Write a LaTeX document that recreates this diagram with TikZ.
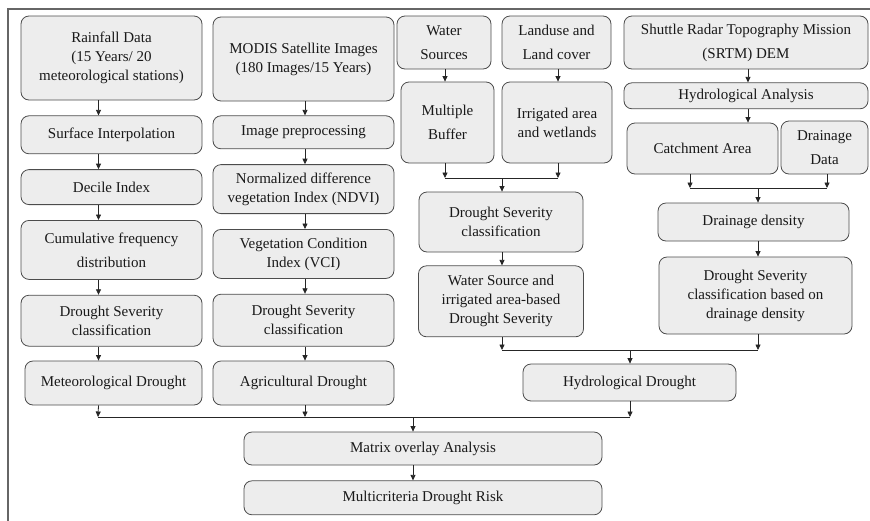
\documentclass[tikz,border=0pt]{standalone}
\usepackage{fontspec}
\setmainfont{Liberation Serif}
\usetikzlibrary{arrows.meta, positioning}
\tikzstyle{box} = [rectangle, rounded corners=8pt, align=center, inner sep=2pt, draw=black!70, line width=0.8pt, fill=black!7, text=black!90, font=\fontsize{15}{19}\selectfont]
\tikzstyle{wide} = [font=\fontsize{15}{24}\selectfont]
\tikzstyle{arrow} = [line width=0.8pt, draw=black!85, -{Triangle[length=5.5pt,width=5pt]}]
\tikzstyle{line} = [line width=0.8pt, draw=black!85]

\begin{document}
\begin{tikzpicture}[x=1pt, y=-1pt, node distance=15pt]
      \useasboundingbox (0,0) rectangle (870,520);
      \draw [black!60, line width=1.2pt] (8,525) -- (8,9) -- (875,9);

      % meteorological column
      \node (rain) [box, minimum width=181pt, minimum height=84pt] at (111.5,58) {Rainfall Data\\(15 Years/ 20\\meteorological stations)};
      \node (surf) [box, below=of rain, minimum width=181pt, minimum height=38pt] {Surface Interpolation};
      \node (decile) [box, below=of surf, minimum width=181pt, minimum height=35pt] {Decile Index};
      \node (cumul) [box, below=of decile, minimum width=181pt, minimum height=59pt, wide] {Cumulative frequency\\distribution};
      \node (dsc1) [box, below=of cumul, minimum width=181pt, minimum height=51pt] {Drought Severity\\classification};
      \node (meteo) [box, below=14pt of dsc1, xshift=2pt, minimum width=177pt, minimum height=44pt] {Meteorological Drought};

      % agricultural column
      \node (modis) [box, minimum width=181pt, minimum height=84pt] at (303.5,59) {MODIS Satellite Images\\(180 Images/15 Years)};
      \node (prep) [box, below=14pt of modis, minimum width=181pt, minimum height=33pt] {Image preprocessing};
      \node (ndvi) [box, below=of prep, minimum width=181pt, minimum height=49pt] {Normalized difference\\vegetation Index (NDVI)};
      \node (vci) [box, below=of ndvi, minimum width=181pt, minimum height=49pt] {Vegetation Condition\\Index (VCI)};
      \node (dsc2) [box, below=of vci, minimum width=181pt, minimum height=52pt] {Drought Severity\\classification};
      \node (agri) [box, below=14pt of dsc2, minimum width=181pt, minimum height=44pt] {Agricultural Drought};

      % water source column
      \node (water) [box, wide, minimum width=94pt, minimum height=53pt] at (444,42.5) {Water\\Sources};
      \node (landuse) [box, wide, minimum width=109pt, minimum height=53pt] at (556.5,42.5) {Landuse and\\Land cover};
      \node (buffer) [box, wide, minimum width=93pt, minimum height=81pt] at (447.5,122.5) {Multiple\\Buffer};
      \node (irrig) [box, minimum width=110pt, minimum height=81pt] at (557,122.5) {Irrigated area\\and wetlands};
      \node (dsc3) [box, minimum width=164pt, minimum height=60pt] at (501,222) {Drought Severity\\classification};
      \node (wsdsev) [box, below=13pt of dsc3, minimum width=165pt, minimum height=71pt] {Water Source and\\irrigated area-based\\Drought Severity};

      % drainage column
      \node (srtm) [box, wide, minimum width=244pt, minimum height=53pt] at (746,42.5) {Shuttle Radar Topography Mission\\(SRTM) DEM};
      \node (hydan) [box, below=13pt of srtm, minimum width=244pt, minimum height=26pt] {Hydrological Analysis};
      \node (catch) [box, minimum width=151pt, minimum height=51pt] at (702.5,148.5) {Catchment Area};
      \node (drdata) [box, wide, minimum width=87pt, minimum height=53pt] at (824.5,147.5) {Drainage\\Data};
      \node (drdens) [box, minimum width=191pt, minimum height=38pt] at (753.5,222) {Drainage density};
      \node (dsdr) [box, minimum width=193pt, minimum height=77pt] at (755.5,295.5) {Drought Severity\\classification based on\\drainage density};
      \node (hydro) [box, minimum width=213pt, minimum height=37pt] at (629.5,382.5) {Hydrological Drought};

      % risk
      \node (matrix) [box, minimum width=358pt, minimum height=33pt] at (423,448.5) {Matrix overlay Analysis};
      \node (risk) [box, below=15pt of matrix, minimum width=358pt, minimum height=34pt] {Multicriteria Drought Risk};

      \coordinate (mws) at (502,178);
      \coordinate (mdr) at (758,188);
      \coordinate (mhy) at (630,350);
      \coordinate (mall) at (413,417);
      \coordinate (mleft) at (98,417);

      \draw [arrow] ([xshift=-13pt]rain.south) -- ([xshift=-13pt]surf.north);
      \draw [arrow] ([xshift=-13pt]surf.south) -- ([xshift=-13pt]decile.north);
      \draw [arrow] ([xshift=-13pt]decile.south) -- ([xshift=-13pt]cumul.north);
      \draw [arrow] ([xshift=-13pt]cumul.south) -- ([xshift=-13pt]dsc1.north);
      \draw [arrow] ([xshift=-13pt]dsc1.south) -- ([xshift=-15pt]meteo.north);

      \draw [arrow] ([xshift=1.5pt]modis.south) -- ([xshift=1.5pt]prep.north);
      \draw [arrow] ([xshift=1.5pt]prep.south) -- ([xshift=1.5pt]ndvi.north);
      \draw [arrow] ([xshift=1.5pt]ndvi.south) -- ([xshift=1.5pt]vci.north);
      \draw [arrow] ([xshift=1.5pt]vci.south) -- ([xshift=1.5pt]dsc2.north);
      \draw [arrow] ([xshift=1.5pt]dsc2.south) -- ([xshift=1.5pt]agri.north);

      \draw [arrow] ([xshift=1pt]water.south) -- ([xshift=-2.5pt]buffer.north);
      \draw [arrow] ([xshift=1.5pt]landuse.south) -- ([xshift=1pt]irrig.north);
      \draw [arrow] ([xshift=-2.5pt]buffer.south) -- ([xshift=-2.5pt]buffer.south |- mws);
      \draw [arrow] ([xshift=1pt]irrig.south) -- ([xshift=1pt]irrig.south |- mws);
      \draw [line] ([xshift=-2.5pt]buffer.south |- mws) -- ([xshift=1pt]irrig.south |- mws);
      \draw [arrow] (mws) -- (mws |- dsc3.north);
      \draw [arrow] (mws |- dsc3.south) -- (mws |- wsdsev.north);

      \draw [arrow] ([xshift=2pt]srtm.south) -- ([xshift=2pt]hydan.north);
      \draw [arrow] ([xshift=2pt]hydan.south) -- ([xshift=2pt]hydan.south |- catch.north);
      \draw [arrow] ([xshift=-12.5pt]catch.south) -- ([xshift=-12.5pt]catch.south |- mdr);
      \draw [arrow] ([xshift=2.5pt]drdata.south) -- ([xshift=2.5pt]drdata.south |- mdr);
      \draw [line] ([xshift=-12.5pt]catch.south |- mdr) -- ([xshift=2.5pt]drdata.south |- mdr);
      \draw [arrow] (mdr) -- (mdr |- drdens.north);
      \draw [arrow] (mdr |- drdens.south) -- (mdr |- dsdr.north);

      \draw [arrow] (mws |- wsdsev.south) -- (mws |- mhy);
      \draw [arrow] (mdr |- dsdr.south) -- (mdr |- mhy);
      \draw [line] (mws |- mhy) -- (mdr |- mhy);
      \draw [arrow] (mhy) -- (mhy |- hydro.north);

      \draw [arrow] ([xshift=-15pt]meteo.south) -- (mleft);
      \draw [arrow] ([xshift=1.5pt]agri.south) -- ([xshift=1.5pt]agri.south |- mall);
      \draw [arrow] (mhy |- hydro.south) -- (mhy |- mall);
      \draw [line] (mleft) -- (mhy |- mall);
      \draw [arrow] (mall) -- (mall |- matrix.north);
      \draw [arrow] (mall |- matrix.south) -- (mall |- risk.north);
    \end{tikzpicture}
\end{document}
